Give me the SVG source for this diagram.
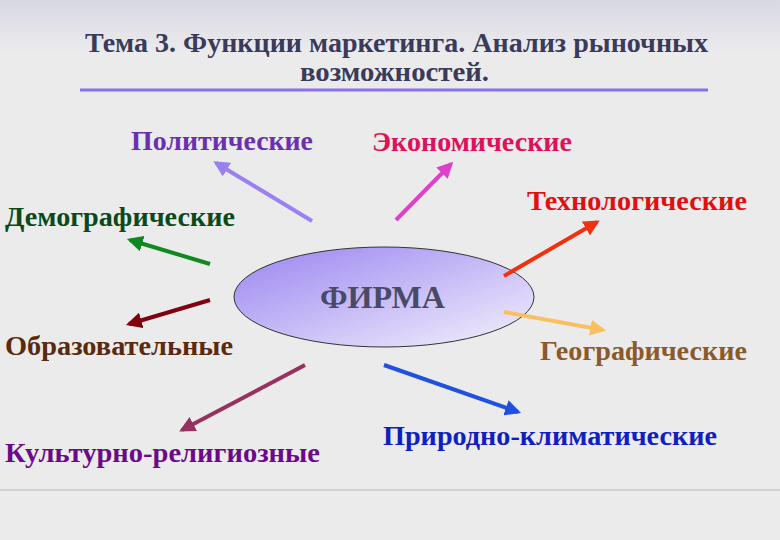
<svg xmlns="http://www.w3.org/2000/svg" width="780" height="540" viewBox="0 0 780 540">
<defs>
<linearGradient id="eg" x1="0" y1="0" x2="1" y2="1"><stop offset="0" stop-color="#9a84f0"/><stop offset="1" stop-color="#f4f2fc"/></linearGradient>
<linearGradient id="bg" x1="0" y1="0" x2="0" y2="1"><stop offset="0" stop-color="#d8d8e2"/><stop offset="1" stop-color="#ececee"/></linearGradient>
<marker id="ah" viewBox="0 0 10 10" refX="8" refY="5" markerWidth="4" markerHeight="4" orient="auto"><path d="M0,0 L10,5 L0,10 z" fill="context-stroke"/></marker>
<style>
.t{font-family:"Liberation Serif",serif;font-weight:bold;font-size:27px}
.a{stroke-width:4;fill:none;marker-end:url(#ah)}
</style>
</defs>
<rect width="780" height="540" fill="#ebebeb"/>
<rect width="780" height="55" fill="url(#bg)"/>
<g id="title">
<text x="85" y="52" class="t" fill="#3a3a5a" textLength="623" lengthAdjust="spacingAndGlyphs">Тема 3. Функции маркетинга. Анализ рыночных</text>
<text x="300" y="81" class="t" fill="#3a3a5a" textLength="189" lengthAdjust="spacingAndGlyphs">возможностей.</text>
<line x1="80" y1="90" x2="708" y2="90" stroke="#8a70f0" stroke-width="3"/>
</g>
<g id="firm">
<ellipse cx="384" cy="297" rx="150" ry="50" fill="url(#eg)" stroke="#333" stroke-width="1"/>
<text x="320" y="308" font-family="Liberation Serif,serif" font-weight="bold" font-size="31" fill="#4a4a66" textLength="125" lengthAdjust="spacingAndGlyphs">ФИРМА</text>
</g>
<g id="connectors">
<line class="a" x1="312" y1="221" x2="216" y2="163" stroke="#9a80f0"/>
<line class="a" x1="396" y1="220" x2="451" y2="164" stroke="#e040c8"/>
<line class="a" x1="210" y1="264" x2="130" y2="240" stroke="#108a20"/>
<line class="a" x1="210" y1="300" x2="129" y2="324" stroke="#800010"/>
<line class="a" x1="305" y1="365" x2="182" y2="430" stroke="#983060"/>
<line class="a" x1="504" y1="276" x2="597" y2="222" stroke="#f03010"/>
<line class="a" x1="504" y1="312" x2="603" y2="330" stroke="#f8c060"/>
<line class="a" x1="384" y1="365" x2="518" y2="412" stroke="#2050e0"/>
</g>
<g id="n-pol"><text x="131" y="150" class="t" fill="#6a30b0" textLength="182" lengthAdjust="spacingAndGlyphs">Политические</text></g>
<g id="n-eco"><text x="372" y="151" class="t" fill="#e0105a" textLength="200" lengthAdjust="spacingAndGlyphs">Экономические</text></g>
<g id="n-tech"><text x="527" y="210" class="t" fill="#e01010" textLength="220" lengthAdjust="spacingAndGlyphs">Технологические</text></g>
<g id="n-dem"><text x="5" y="226" class="t" fill="#0a4a1a" textLength="230" lengthAdjust="spacingAndGlyphs">Демографические</text></g>
<g id="n-edu"><text x="5" y="355" class="t" fill="#5a2a10" textLength="228" lengthAdjust="spacingAndGlyphs">Образовательные</text></g>
<g id="n-geo"><text x="540" y="360" class="t" fill="#8b5a2b" textLength="207" lengthAdjust="spacingAndGlyphs">Географические</text></g>
<g id="n-cul"><text x="5" y="462" class="t" fill="#6a0a8a" textLength="315" lengthAdjust="spacingAndGlyphs">Культурно-религиозные</text></g>
<g id="n-nat"><text x="383" y="445" class="t" fill="#1020c0" textLength="334" lengthAdjust="spacingAndGlyphs">Природно-климатические</text></g>
<line x1="0" y1="490" x2="780" y2="490" stroke="#d0d0d8" stroke-width="2"/>
</svg>
